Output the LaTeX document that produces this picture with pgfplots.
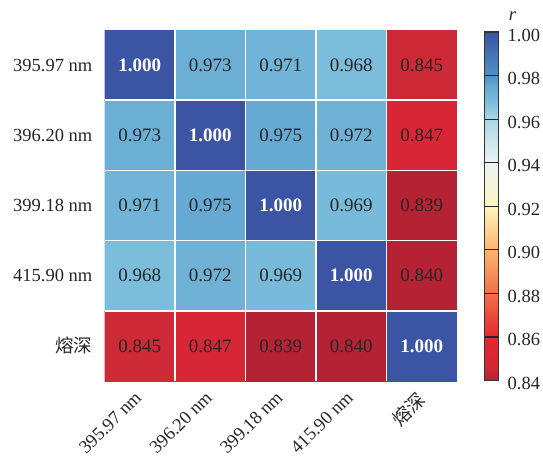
\documentclass[border=0pt]{standalone}
\usepackage{pgfplots}
\pgfplotsset{compat=1.18}
\usepackage{pgfplotstable}
\usepackage{fontspec}
\setmainfont{Liberation Serif}
\newfontfamily\cjk{Noto Sans CJK SC}
\newcommand\fs{\fontsize{18.5}{22}\selectfont}
\newcommand\cs{\fontsize{19}{22}\selectfont}

% Pearson correlation matrix (x = column, y = row)
\pgfplotstableread{
x y c
0 0 1.000
1 0 0.973
2 0 0.971
3 0 0.968
4 0 0.845
0 1 0.973
1 1 1.000
2 1 0.975
3 1 0.972
4 1 0.847
0 2 0.971
1 2 0.975
2 2 1.000
3 2 0.969
4 2 0.839
0 3 0.968
1 3 0.972
2 3 0.969
3 3 1.000
4 3 0.840
0 4 0.845
1 4 0.847
2 4 0.839
3 4 0.840
4 4 1.000
}\corr

\begin{document}
\begin{tikzpicture}
\useasboundingbox (0,0) rectangle (543pt,-457pt);
\begin{axis}[
  at={(104.5pt,-30pt)}, anchor=north west,
  width=352.5pt, height=351pt, scale only axis,
  xmin=-0.5, xmax=4.5, ymin=-0.5, ymax=4.5, y dir=reverse,
  xtick={0,...,4}, ytick={0,...,4},
  xticklabels={395.97 nm, 396.20 nm, 399.18 nm, 415.90 nm, {\cjk 熔深}},
  yticklabels={395.97 nm, 396.20 nm, 399.18 nm, 415.90 nm, {\cjk 熔深}},
  major tick length=0pt,
  axis line style={draw=none},
  axis on top,
  tick label style={font=\fs, text=black!85},
  x tick label style={xshift=-6pt, yshift=-9pt, rotate=45, anchor=north east, inner sep=0pt},
  y tick label style={anchor=east, inner sep=0pt, xshift=-12pt},
  extra x ticks={0.5,1.5,2.5,3.5}, extra x tick labels={},
  extra y ticks={0.5,1.5,2.5,3.5}, extra y tick labels={},
  extra tick style={grid=major, major grid style={white, line width=1.6pt}},
  colormap={corr}{
    rgb255(0pt)=(180,34,51)
    rgb255(5pt)=(205,41,55)
    rgb255(7pt)=(215,38,54)
    rgb255(20pt)=(228,40,46)
    rgb255(40pt)=(241,112,74)
    rgb255(60pt)=(252,182,108)
    rgb255(80pt)=(253,244,192)
    rgb255(100pt)=(236,244,242)
    rgb255(120pt)=(170,214,229)
    rgb255(128pt)=(123,189,219)
    rgb255(135pt)=(102,169,210)
    rgb255(140pt)=(78,146,198)
    rgb255(160pt)=(59,84,164)
  },
  point meta min=0.84, point meta max=1.00,
  colorbar,
  colorbar style={
    at={(parent axis.north east)}, anchor=north west,
    xshift=19pt, yshift=-2pt,
    scale only axis, width=14pt, height=348.5pt,
    axis line style={draw=black!80, line width=1.2pt},
    ytick={0.84,0.86,0.88,0.90,0.92,0.94,0.96,0.98,1.00},
    major tick length=0pt,
    grid=major, major grid style={black!85, line width=1.2pt},
    yticklabel style={font=\fs, text=black!85, anchor=west, inner sep=0pt,
      xshift=9pt, yshift=-3pt,
      /pgf/number format/fixed, /pgf/number format/fixed zerofill,
      /pgf/number format/precision=2, /pgf/number format/assume math mode=true},
    title={\textit{r}},
    title style={at={(1,1)}, anchor=center, inner sep=0pt, xshift=14pt, yshift=10pt, font=\fs, text=black!85},
  },
]
% colour cells
\addplot[matrix plot*, mesh/cols=5, point meta=explicit] table[meta=c]{\corr};
% off-diagonal values
\addplot[only marks, mark=*, mark size=0pt, mark options={draw=none, fill=none},
  point meta=explicit, restrict expr to domain={abs(x-y)}{0.5:10},
  nodes near coords={\pgfmathprintnumber[fixed, fixed zerofill, precision=3, assume math mode=true]{\pgfplotspointmeta}},
  nodes near coords align=center,
  every node near coord/.append style={font=\cs, text=black!85}]
  table[meta=c]{\corr};
% diagonal values
\addplot[only marks, mark=*, mark size=0pt, mark options={draw=none, fill=none},
  point meta=explicit, restrict expr to domain={abs(x-y)}{-0.5:0.5},
  nodes near coords={\pgfmathprintnumber[fixed, fixed zerofill, precision=3, assume math mode=true]{\pgfplotspointmeta}},
  nodes near coords align=center,
  every node near coord/.append style={font=\cs\bfseries, text=white}]
  table[meta=c]{\corr};
\end{axis}
\end{tikzpicture}
\end{document}
